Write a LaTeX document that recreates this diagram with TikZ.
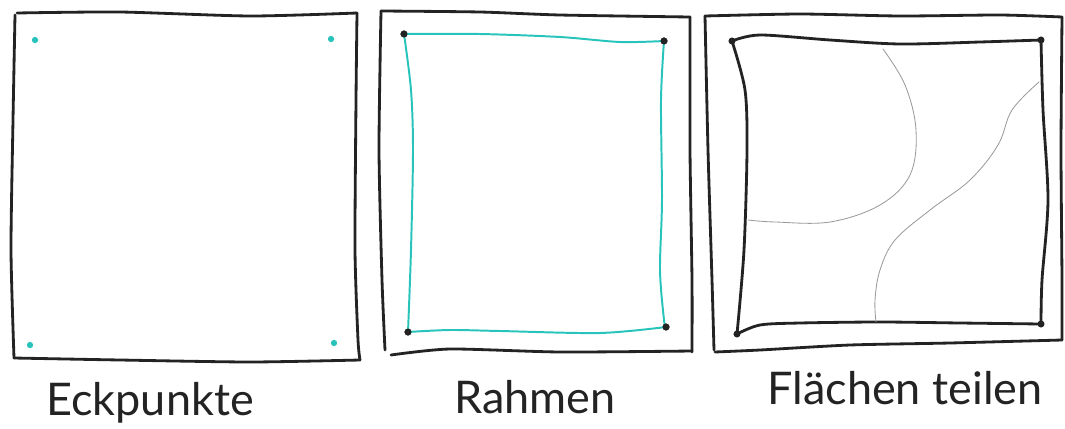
\documentclass[tikz,border=0pt]{standalone}
\usepackage{fontspec}
\setmainfont{Lato}
\usetikzlibrary{positioning}
\definecolor{penteal}{RGB}{40,196,188}
\definecolor{penblack}{RGB}{35,35,35}
\definecolor{pencil}{RGB}{155,155,155}
\tikzset{
   frame/.style={draw=penblack, line width=2pt, line cap=round, line join=round},
   rim/.style={draw=penteal, line width=1.4pt, line cap=round},
   cut/.style={draw=pencil, line width=0.6pt, line cap=round},
   tealdot/.style={ fill=penteal, shape=circle, minimum size=4.5pt, inner sep=0pt},
   blackdot/.style={ fill=penblack, shape=circle, minimum size=5pt, inner sep=0pt},
   caption/.style={ font=\fontsize{32}{34}\selectfont, text=penblack, inner sep=0pt}
}
\begin{document}
\begin{tikzpicture}[x=0.025cm, y=-0.025cm]

  \useasboundingbox (0,0) rectangle (1065,428);

  %%%%%%%%%%% Eckpunkte

  \draw[frame] plot[smooth, tension=0.4] coordinates {(17,13) (120,12) (250,16) (357,13)};
  \draw[frame] plot[smooth, tension=0.4] coordinates {(357,13) (356,100) (355,250) (358,340) (360,360)};
  \draw[frame] plot[smooth, tension=0.4] coordinates {(360,360) (250,362) (120,360) (14,358)};
  \draw[frame] plot[smooth, tension=0.4] coordinates {(15,15) (13,120) (11,250) (14,358)};

  \node[tealdot] at (35,40)   (e nw) {};
  \node[tealdot] at (331,39)  (e ne) {};
  \node[tealdot] at (30,345)  (e sw) {};
  \node[tealdot] at (334,343) (e se) {};

  %%%%%%%%%%% Rahmen

  \draw[frame] plot[smooth, tension=0.4] coordinates {(381,11) (480,12) (560,15) (690,17)};
  \draw[frame] plot[smooth, tension=0.4] coordinates {(690,17) (690,150) (692,280) (692,352)};
  \draw[frame] plot[smooth, tension=0.4] coordinates {(692,351) (560,352) (450,349) (391,355)};
  \draw[frame] plot[smooth, tension=0.4] coordinates {(381,11) (379,150) (382,280) (385,350)};

  \node[blackdot] at (404,34)  (r nw) {};
  \node[blackdot] at (664,41)  (r ne) {};
  \node[blackdot] at (408,332) (r sw) {};
  \node[blackdot] at (666,327) (r se) {};

  \draw[rim] plot[smooth, tension=0.5] coordinates {(r nw.center) (480,34) (560,37) (620,42) (r ne.center)};
  \draw[rim] plot[smooth, tension=0.5] coordinates {(r ne.center) (661,100) (662,200) (660,270) (664,320) (r se.center)};
  \draw[rim] plot[smooth, tension=0.5] coordinates {(r se.center) (600,333) (500,331) (450,330) (r sw.center)};
  \draw[rim] plot[smooth, tension=0.5] coordinates {(r sw.center) (411,250) (413,150) (411,90) (r nw.center)};
  \foreach \c in {r nw, r ne, r sw, r se} \node[blackdot] at (\c) {};

  %%%%%%%%%%% Flaechen teilen

  \draw[frame] plot[smooth, tension=0.4] coordinates {(705,16) (800,14) (900,16) (1000,15) (1062,17)};
  \draw[frame] plot[smooth, tension=0.4] coordinates {(1062,17) (1061,150) (1062,280) (1062,340)};
  \draw[frame] plot[smooth, tension=0.4] coordinates {(1062,340) (950,343) (850,345) (760,350) (715,352)};
  \draw[frame] plot[smooth, tension=0.4] coordinates {(705,16) (708,150) (712,280) (714,350)};

  \node[blackdot] at (732,41)   (f nw) {};
  \node[blackdot] at (1041,40)  (f ne) {};
  \node[blackdot] at (737,334)  (f sw) {};
  \node[blackdot] at (1041,324) (f se) {};

  \draw[frame] plot[smooth, tension=0.5] coordinates {(f nw.center) (760,35) (830,40) (900,44) (980,42) (f ne.center)};
  \draw[frame] plot[smooth, tension=0.5] coordinates {(f ne.center) (1043,110) (1048,200) (1042,280) (f se.center)};
  \draw[frame] plot[smooth, tension=0.5] coordinates {(f se.center) (960,323) (880,322) (800,323) (760,325) (f sw.center)};
  \draw[frame] plot[smooth, tension=0.5] coordinates {(f sw.center) (744,250) (747,150) (745,90) (f nw.center)};

  \draw[cut] plot[smooth, tension=0.6] coordinates {(883,49) (905,85) (916,130) (910,175) (880,205) (830,222) (775,222) (748,220)};
  \draw[cut] plot[smooth, tension=0.6] coordinates {(1039,82) (1012,110) (998,145) (970,180) (930,210) (895,240) (880,270) (875,300) (876,322)};

  %%%%%%%%%%%

  \node[caption] at (150,403) (eck)    {Eckpunkte};
  \node[caption] at (535,397) (rahmen) {Rahmen};
  \node[caption] at (905,388) (teilen) {Flächen teilen};

\end{tikzpicture}
\end{document}
